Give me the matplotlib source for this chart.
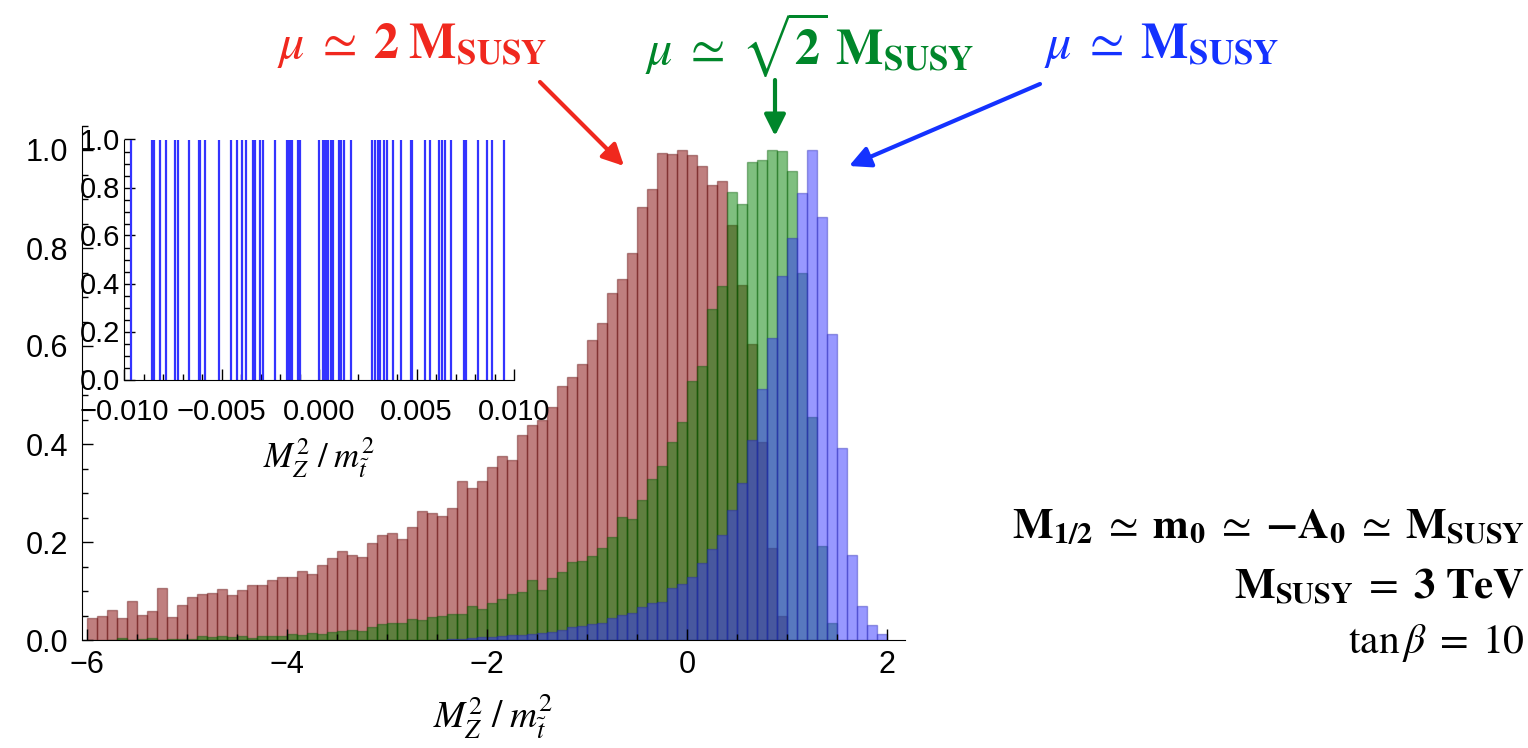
import numpy as np
import matplotlib.pyplot as plt
from matplotlib.ticker import MultipleLocator, FuncFormatter

plt.rcParams['font.family'] = ['Liberation Sans', 'DejaVu Sans']
plt.rcParams['mathtext.fontset'] = 'cm'

# histogram bins (M_Z^2 / m_stop^2), width 0.1 starting at -6
bin_start = -6.0
bin_width = 0.1

# normalised counts, one entry per bin (80 bins)
mu_2msusy = [0.044, 0.049, 0.061, 0.044, 0.080, 0.052, 0.059, 0.106, 0.047, 0.071,
             0.088, 0.094, 0.096, 0.104, 0.092, 0.103, 0.112, 0.112, 0.122, 0.129,
             0.129, 0.141, 0.135, 0.153, 0.167, 0.182, 0.173, 0.169, 0.198, 0.214,
             0.218, 0.206, 0.231, 0.263, 0.260, 0.253, 0.270, 0.324, 0.311, 0.325,
             0.353, 0.375, 0.367, 0.418, 0.439, 0.450, 0.475, 0.518, 0.537, 0.563,
             0.612, 0.646, 0.708, 0.736, 0.790, 0.884, 0.920, 0.994, 0.992, 1.000,
             0.990, 0.968, 0.929, 0.937, 0.846, 0.724, 0.605, 0.405, 0.188, 0.048,
             0, 0, 0, 0, 0, 0, 0, 0, 0, 0]

mu_sqrt2msusy = [0.0, 0.0, 0.001, 0.004, 0.001, 0.002, 0.005, 0.001, 0.002, 0.003,
                 0.003, 0.008, 0.006, 0.008, 0.007, 0.008, 0.005, 0.008, 0.008, 0.009,
                 0.012, 0.010, 0.014, 0.012, 0.016, 0.019, 0.020, 0.018, 0.026, 0.032,
                 0.034, 0.034, 0.043, 0.041, 0.046, 0.050, 0.053, 0.053, 0.069, 0.063,
                 0.075, 0.084, 0.093, 0.098, 0.122, 0.103, 0.126, 0.139, 0.160, 0.161,
                 0.172, 0.188, 0.210, 0.251, 0.247, 0.286, 0.329, 0.356, 0.405, 0.445,
                 0.528, 0.559, 0.676, 0.723, 0.914, 0.890, 0.976, 0.980, 1.000, 0.998,
                 0.958, 0.749, 0.456, 0.192, 0.035, 0, 0, 0, 0, 0]

mu_msusy = [0, 0, 0, 0, 0, 0, 0, 0, 0, 0,
            0, 0, 0, 0, 0, 0, 0, 0, 0, 0,
            0, 0, 0, 0, 0, 0, 0, 0, 0, 0,
            0, 0, 0, 0, 0, 0.001, 0.003, 0.003, 0.004, 0.006,
            0.007, 0.008, 0.010, 0.011, 0.012, 0.015, 0.016, 0.020, 0.026, 0.029,
            0.033, 0.035, 0.045, 0.051, 0.056, 0.067, 0.075, 0.078, 0.106, 0.115,
            0.129, 0.157, 0.186, 0.215, 0.265, 0.320, 0.408, 0.513, 0.616, 0.743,
            0.821, 0.913, 1.000, 0.864, 0.625, 0.391, 0.173, 0.069, 0.030, 0.012]

# zoom of the inset: individual points near M_Z^2/m_stop^2 = 0
inset_points = [-0.00962, -0.00854, -0.00847, -0.00816, -0.00786, -0.00737, -0.00722,
                -0.00668, -0.00617, -0.00608, -0.00584, -0.00515, -0.00452, -0.00423,
                -0.00397, -0.00372, -0.00339, -0.00326, -0.00304, -0.00286, -0.00228,
                -0.00163, -0.00154, -0.00146, -0.00136, -0.00107, -0.00097, -0.00001,
                0.00018, 0.00026, 0.00038, 0.00047, 0.00064, 0.00072, 0.00103, 0.00115,
                0.00129, 0.00166, 0.00274, 0.00286, 0.00300, 0.00315, 0.00334, 0.00349,
                0.00380, 0.00421, 0.00471, 0.00478, 0.00546, 0.00568, 0.00614, 0.00633,
                0.00645, 0.00676, 0.00744, 0.00753, 0.00816, 0.00864, 0.00889, 0.00949]

W, H = 1528, 748


def fpos(x, y):
    # pixel position (from top-left) -> figure fraction
    return x / W, 1 - y / H


fig = plt.figure(figsize=(W / 100, H / 100), dpi=100)
ax = fig.add_axes([82 / W, 108 / H, 823 / W, 514.5 / H])

series = [(mu_2msusy, (0.5, 0.0, 0.0)),
          (mu_sqrt2msusy, (0.0, 0.5, 0.0)),
          (mu_msusy, (0.2, 0.2, 1.0))]
for vals, c in series:
    vals = np.array(vals, dtype=float)
    lefts = bin_start + bin_width * np.arange(len(vals))
    keep = vals > 0
    ax.bar(lefts[keep], vals[keep], width=bin_width, align='edge',
           facecolor=c + (0.5,), edgecolor=tuple(0.7 * v for v in c) + (0.4,),
           linewidth=1.0)

ax.set_xlim(-6.05, 2.18)
ax.set_ylim(0, 1.05)
for s in ['top', 'right']:
    ax.spines[s].set_visible(False)
ax.xaxis.set_major_locator(MultipleLocator(2))
ax.xaxis.set_minor_locator(MultipleLocator(0.5))
ax.yaxis.set_major_locator(MultipleLocator(0.2))
ax.yaxis.set_minor_locator(MultipleLocator(0.05))
ax.yaxis.set_major_formatter(FuncFormatter(lambda v, p: f"{v:.1f}"))
ax.xaxis.set_major_formatter(FuncFormatter(lambda v, p: f"{v:.0f}".replace('-', '\u2212')))
ax.tick_params(which='both', direction='in', labelsize=22, width=1)
ax.tick_params(which='major', length=8)
ax.tick_params(which='minor', length=4)
ax.tick_params(axis='x', pad=7)
ax.tick_params(axis='y', pad=10)
ax.set_xlabel(r'$M_Z^2\;/\;m_{\tilde{t}}^2$', fontsize=27, math_fontfamily='stix', labelpad=9)

# inset
axin = fig.add_axes([124 / W, (H - 379.5) / H, 390 / W, 240 / H])
axin.patch.set_alpha(0)
axin.vlines(inset_points, 0, 1, color=(0.2, 0.2, 1.0), lw=1.6)
axin.set_xlim(-0.01, 0.01)
axin.set_ylim(0, 1.0)
for s in ['top', 'right']:
    axin.spines[s].set_visible(False)
axin.xaxis.set_major_locator(MultipleLocator(0.005))
axin.xaxis.set_minor_locator(MultipleLocator(0.001))
axin.yaxis.set_major_locator(MultipleLocator(0.2))
axin.yaxis.set_minor_locator(MultipleLocator(0.05))
axin.yaxis.set_major_formatter(FuncFormatter(lambda v, p: f"{v:.1f}"))
axin.xaxis.set_major_formatter(FuncFormatter(
    lambda v, p: f"{v:.3f}".replace('-', '\u2212') if abs(v) > 1e-9 else "0.000"))
axin.tick_params(which='both', direction='in', labelsize=21, width=1)
axin.tick_params(which='major', length=8)
axin.tick_params(which='minor', length=4)
axin.tick_params(axis='y', pad=3)
axin.tick_params(axis='x', pad=13)
axin.set_xlabel(r'$M_Z^2\;/\;m_{\tilde{t}}^2$', fontsize=25, math_fontfamily='stix', labelpad=7)

# labels with arrows
red_c, green_c, blue_c = '#f0281e', '#00862a', '#1432ff'
fig.text(*fpos(412, 45), r'$\mu\;\simeq\;\mathbf{2}\;\mathbf{M}_{\mathbf{SUSY}}$',
         color=red_c, fontsize=36, ha='center', va='center', math_fontfamily='stix')
fig.text(*fpos(810, 45), r'$\mu\;\simeq\;\sqrt{\mathbf{2}}\;\mathbf{M}_{\mathbf{SUSY}}$',
         color=green_c, fontsize=36, ha='center', va='center', math_fontfamily='stix')
fig.text(*fpos(1162, 45), r'$\mu\;\simeq\;\mathbf{M}_{\mathbf{SUSY}}$',
         color=blue_c, fontsize=36, ha='center', va='center', math_fontfamily='stix')

arrows = [((540, 82), (624, 166), red_c),
          ((775, 80), (775, 136), green_c),
          ((1040, 84), (849, 166), blue_c)]
for tail, tip, c in arrows:
    ax.annotate('', xy=fpos(*tip), xytext=fpos(*tail), xycoords='figure fraction',
                textcoords='figure fraction',
                arrowprops=dict(arrowstyle='-|>', color=c, lw=3, mutation_scale=32,
                                shrinkA=0, shrinkB=0))

# parameter box on the right
fig.text(*fpos(1525, 528), r'$\mathbf{M}_{\mathbf{1/2}}\;\simeq\;\mathbf{m}_{\mathbf{0}}\;\simeq\;'
         r'\mathbf{-A}_{\mathbf{0}}\;\simeq\;\mathbf{M}_{\mathbf{SUSY}}$',
         fontsize=31, ha='right', va='center', math_fontfamily='stix')
fig.text(*fpos(1525, 588), r'$\mathbf{M}_{\mathbf{SUSY}}\;=\;\mathbf{3\ TeV}$',
         fontsize=31, ha='right', va='center', math_fontfamily='stix')
fig.text(*fpos(1525, 643), r'$\tan\beta\;=\;10$', fontsize=30, ha='right', va='center',
         math_fontfamily='stix')

fig.savefig('out.png', dpi=100)
